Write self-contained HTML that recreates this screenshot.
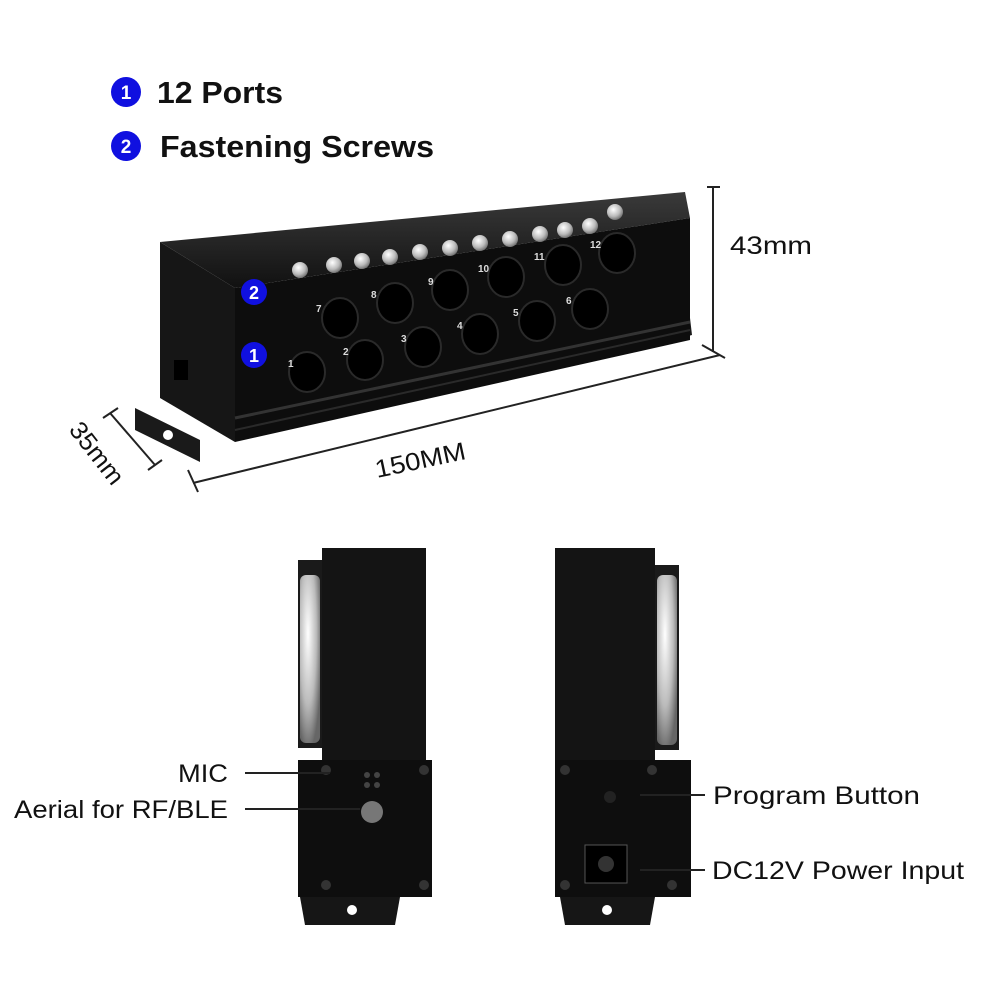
<!DOCTYPE html>
<html><head><meta charset="utf-8"><style>
html,body{margin:0;padding:0;background:#fff;width:1000px;height:1000px;overflow:hidden}
svg{display:block}
text{font-family:"Liberation Sans","DejaVu Sans",sans-serif}
</style></head><body>
<svg width="1000" height="1000" viewBox="0 0 1000 1000" xmlns="http://www.w3.org/2000/svg">
<defs>
<linearGradient id="top" x1="0" y1="0" x2="0" y2="1"><stop offset="0" stop-color="#3a3a3a"/><stop offset="1" stop-color="#111"/></linearGradient>
<radialGradient id="scr" cx="0.4" cy="0.35" r="0.7"><stop offset="0" stop-color="#fff"/><stop offset="0.6" stop-color="#bbb"/><stop offset="1" stop-color="#666"/></radialGradient>
</defs>
<!-- legend -->
<circle cx="126" cy="92" r="15" fill="#1010e0"/><text x="126" y="99" fill="#fff" font-size="19" font-weight="bold" text-anchor="middle">1</text>
<text x="157" y="103" font-size="31" font-weight="bold" fill="#111" textLength="126" lengthAdjust="spacingAndGlyphs">12 Ports</text>
<circle cx="126" cy="146" r="15" fill="#1010e0"/><text x="126" y="153" fill="#fff" font-size="19" font-weight="bold" text-anchor="middle">2</text>
<text x="160" y="157" font-size="31" font-weight="bold" fill="#111" textLength="274" lengthAdjust="spacingAndGlyphs">Fastening Screws</text>

<!-- main box -->
<polygon points="135,408 200,440 200,462 135,430" fill="#1a1a1a"/>
<circle cx="168" cy="435" r="5" fill="#fff"/>
<polygon points="650,330 690,318 692,335 655,345" fill="#1a1a1a"/>
<polygon points="160,242 235,288 235,442 160,398" fill="#161616"/>
<polygon points="160,242 685,192 690,218 235,288" fill="url(#top)"/>
<polygon points="235,288 690,218 690,340 235,442" fill="#0d0d0d"/>
<line x1="235" y1="418" x2="690" y2="322" stroke="#333" stroke-width="3"/>
<line x1="235" y1="430" x2="690" y2="330" stroke="#2a2a2a" stroke-width="2"/>
<rect x="174" y="360" width="14" height="20" fill="#000"/>
<g fill="#000" stroke="#2a2a2a" stroke-width="2">
<ellipse cx="340" cy="318" rx="18" ry="20"/><ellipse cx="395" cy="303" rx="18" ry="20"/><ellipse cx="450" cy="290" rx="18" ry="20"/><ellipse cx="506" cy="277" rx="18" ry="20"/><ellipse cx="563" cy="265" rx="18" ry="20"/><ellipse cx="617" cy="253" rx="18" ry="20"/>
<ellipse cx="307" cy="372" rx="18" ry="20"/><ellipse cx="365" cy="360" rx="18" ry="20"/><ellipse cx="423" cy="347" rx="18" ry="20"/><ellipse cx="480" cy="334" rx="18" ry="20"/><ellipse cx="537" cy="321" rx="18" ry="20"/><ellipse cx="590" cy="309" rx="18" ry="20"/>
</g>
<g fill="#ddd" font-size="10" font-weight="bold">
<text x="316" y="312">7</text><text x="371" y="298">8</text><text x="428" y="285">9</text><text x="478" y="272">10</text><text x="534" y="260">11</text><text x="590" y="248">12</text>
<text x="288" y="367">1</text><text x="343" y="355">2</text><text x="401" y="342">3</text><text x="457" y="329">4</text><text x="513" y="316">5</text><text x="566" y="304">6</text>
</g>
<g fill="url(#scr)">
<circle cx="300" cy="270" r="8"/><circle cx="334" cy="265" r="8"/><circle cx="362" cy="261" r="8"/><circle cx="390" cy="257" r="8"/><circle cx="420" cy="252" r="8"/><circle cx="450" cy="248" r="8"/><circle cx="480" cy="243" r="8"/><circle cx="510" cy="239" r="8"/><circle cx="540" cy="234" r="8"/><circle cx="565" cy="230" r="8"/><circle cx="590" cy="226" r="8"/><circle cx="615" cy="212" r="8"/>
</g>
<circle cx="254" cy="292" r="13" fill="#1010e0"/><text x="254" y="299" fill="#fff" font-size="18" font-weight="bold" text-anchor="middle">2</text>
<circle cx="254" cy="355" r="13" fill="#1010e0"/><text x="254" y="362" fill="#fff" font-size="18" font-weight="bold" text-anchor="middle">1</text>

<!-- dimensions -->
<g stroke="#222" stroke-width="2" fill="none">
<line x1="713" y1="187" x2="713" y2="352"/><line x1="707" y1="187" x2="720" y2="187"/><line x1="702" y1="345" x2="725" y2="358"/>
<line x1="193" y1="483" x2="720" y2="355"/><line x1="188" y1="470" x2="198" y2="492"/>
<line x1="110" y1="413" x2="155" y2="465"/><line x1="103" y1="418" x2="118" y2="408"/><line x1="148" y1="470" x2="162" y2="460"/>
</g>
<text x="730" y="254" font-size="25" fill="#111" textLength="82" lengthAdjust="spacingAndGlyphs">43mm</text>
<text x="377" y="478" font-size="25" fill="#111" transform="rotate(-12 377 478)" textLength="92" lengthAdjust="spacingAndGlyphs">150MM</text>
<text x="68" y="430" font-size="25" fill="#111" transform="rotate(52 68 430)" textLength="72" lengthAdjust="spacingAndGlyphs">35mm</text>

<!-- left end view -->
<rect x="322" y="548" width="104" height="215" fill="#141414"/>
<rect x="298" y="560" width="24" height="188" fill="#1a1a1a"/>
<g fill="url(#scr)"><rect x="300" y="575" width="20" height="168" rx="6"/></g>
<rect x="298" y="760" width="134" height="137" fill="#0e0e0e"/>
<polygon points="300,897 400,897 395,925 305,925" fill="#161616"/>
<circle cx="352" cy="910" r="5" fill="#fff"/>
<circle cx="326" cy="770" r="5" fill="#333"/><circle cx="424" cy="770" r="5" fill="#333"/><circle cx="326" cy="885" r="5" fill="#333"/><circle cx="424" cy="885" r="5" fill="#333"/>
<circle cx="367" cy="775" r="3" fill="#444"/><circle cx="377" cy="775" r="3" fill="#444"/><circle cx="367" cy="785" r="3" fill="#444"/><circle cx="377" cy="785" r="3" fill="#444"/>
<circle cx="372" cy="812" r="11" fill="#777"/>
<text x="178" y="782" font-size="25" fill="#111" textLength="50" lengthAdjust="spacingAndGlyphs">MIC</text>
<line x1="245" y1="773" x2="330" y2="773" stroke="#222" stroke-width="2"/>
<text x="14" y="818" font-size="25" fill="#111" textLength="214" lengthAdjust="spacingAndGlyphs">Aerial for RF/BLE</text>
<line x1="245" y1="809" x2="360" y2="809" stroke="#222" stroke-width="2"/>

<!-- right end view -->
<rect x="555" y="548" width="100" height="215" fill="#141414"/>
<rect x="655" y="565" width="24" height="185" fill="#1a1a1a"/>
<g fill="url(#scr)"><rect x="657" y="575" width="20" height="170" rx="6"/></g>
<rect x="555" y="760" width="136" height="137" fill="#0e0e0e"/>
<polygon points="560,897 655,897 650,925 565,925" fill="#161616"/>
<circle cx="607" cy="910" r="5" fill="#fff"/>
<circle cx="565" cy="770" r="5" fill="#333"/><circle cx="652" cy="770" r="5" fill="#333"/><circle cx="565" cy="885" r="5" fill="#333"/><circle cx="672" cy="885" r="5" fill="#333"/>
<circle cx="610" cy="797" r="6" fill="#222"/>
<rect x="585" y="845" width="42" height="38" fill="#000" stroke="#555"/>
<circle cx="606" cy="864" r="8" fill="#333"/>
<text x="713" y="804" font-size="25" fill="#111" textLength="207" lengthAdjust="spacingAndGlyphs">Program Button</text>
<line x1="640" y1="795" x2="705" y2="795" stroke="#222" stroke-width="2"/>
<text x="712" y="879" font-size="25" fill="#111" textLength="252" lengthAdjust="spacingAndGlyphs">DC12V Power Input</text>
<line x1="640" y1="870" x2="705" y2="870" stroke="#222" stroke-width="2"/>
</svg>
</body></html>
